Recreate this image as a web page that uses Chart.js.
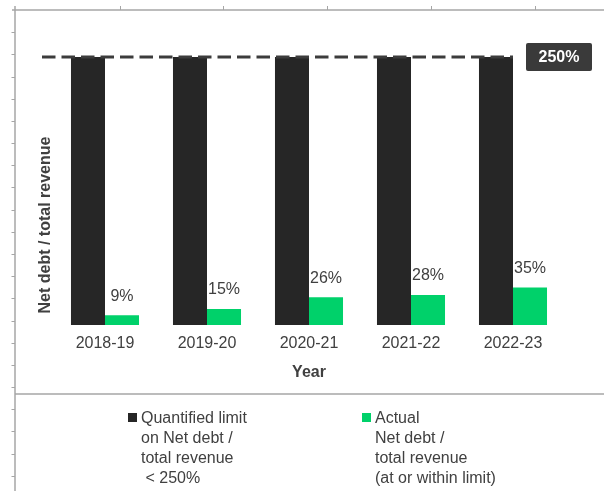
<!DOCTYPE html>
<html>
<head>
<meta charset="utf-8">
<script src="https://cdn.jsdelivr.net/npm/chart.js@4.4.1/dist/chart.umd.min.js"></script>
<style>
  html, body { margin: 0; padding: 0; background: #fff; }
  #wrap { position: relative; width: 604px; height: 491px; overflow: hidden; }
  #c { position: absolute; left: 0; top: 0; }
  .leg { position: absolute; font-family: "Liberation Sans", Arial, sans-serif; font-size: 16px; line-height: 20px; color: #404040; white-space: pre; }
  .sw { position: absolute; width: 9px; height: 9px; }
</style>
</head>
<body>
<div id="wrap">
  <canvas id="c" width="604" height="491"></canvas>
</div>
<script>
// ---- data ----
const categories = ["2018-19", "2019-20", "2020-21", "2021-22", "2022-23"];
const limitValues = [250, 250, 250, 250, 250];
const actualValues = [9, 15, 26, 28, 35];
const limitLabel = "250%";
const seriesNames = ["Quantified limit on Net debt / total revenue < 250%", "Actual Net debt / total revenue (at or within limit)"];
const legendLines = [
  ["Quantified limit", "on Net debt /", "total revenue", " < 250%"],
  ["Actual", "Net debt /", "total revenue", "(at or within limit)"]
];
const xTitle = "Year";
const yTitle = "Net debt / total revenue";

const colors = { limit: "#262626", actual: "#00D16A", text: "#404040", frame: "#a6a6a6" };
const FONT = '"Liberation Sans", Arial, sans-serif';

// legend (HTML text)
const wrap = document.getElementById('wrap');
const legPos = [{ sx: 128, tx: 141 }, { sx: 362, tx: 375 }];
legendLines.forEach((lines, i) => {
  const sw = document.createElement('div');
  sw.className = 'sw';
  sw.style.left = legPos[i].sx + 'px';
  sw.style.top = '413px';
  sw.style.background = i === 0 ? colors.limit : colors.actual;
  wrap.appendChild(sw);
  const t = document.createElement('div');
  t.className = 'leg';
  t.style.left = legPos[i].tx + 'px';
  t.style.top = '408px';
  t.textContent = lines.join('\n');
  wrap.appendChild(t);
});

const framePlugin = {
  id: 'frame',
  beforeDraw(chart) {
    const ctx = chart.ctx;
    ctx.save();
    ctx.strokeStyle = colors.frame;
    ctx.lineWidth = 1.5;
    ctx.beginPath();
    ctx.moveTo(15, 6); ctx.lineTo(15, 491);
    ctx.moveTo(12, 10); ctx.lineTo(604, 10);
    ctx.moveTo(15, 394); ctx.lineTo(604, 394);
    ctx.stroke();
    ctx.lineWidth = 1;
    ctx.beginPath();
    for (let k = 1; k < 22; k++) {
      const y = 10 + k * 22.18;
      if (y > 491) break;
      ctx.moveTo(11.5, Math.round(y) + 0.5); ctx.lineTo(15, Math.round(y) + 0.5);
    }
    [120, 223, 327, 431, 535].forEach(x => { ctx.moveTo(x + 0.5, 6); ctx.lineTo(x + 0.5, 10); });
    ctx.stroke();
    ctx.restore();
  },
  afterDatasetsDraw(chart) {
    const ctx = chart.ctx;
    const ys = chart.scales.y;
    const yLim = ys.getPixelForValue(limitValues[0]);
    const limMeta = chart.getDatasetMeta(0);
    const lastBar = limMeta.data[limMeta.data.length - 1];
    const xEnd = lastBar.x + lastBar.width / 2;
    ctx.save();
    // dashed limit line
    ctx.strokeStyle = "#3c3c3c";
    ctx.lineWidth = 3;
    ctx.setLineDash([13.5, 6]);
    ctx.beginPath();
    ctx.moveTo(42, yLim); ctx.lineTo(xEnd, yLim);
    ctx.stroke();
    ctx.setLineDash([]);
    // 250% box
    ctx.fillStyle = "#3a3a3a";
    ctx.beginPath();
    ctx.roundRect(526, yLim - 14, 66, 28, 2);
    ctx.fill();
    ctx.fillStyle = "#ffffff";
    ctx.font = 'bold 16px ' + FONT;
    ctx.textAlign = 'center';
    ctx.textBaseline = 'middle';
    ctx.fillText(limitLabel, 559, yLim + 1);
    // value labels
    const meta = chart.getDatasetMeta(1);
    ctx.fillStyle = colors.text;
    ctx.font = '16px ' + FONT;
    meta.data.forEach((bar, i) => {
      ctx.fillText(actualValues[i] + '%', bar.x, bar.y - 19);
    });
    // y title
    ctx.font = 'bold 16px ' + FONT;
    ctx.translate(46, 225);
    ctx.rotate(-Math.PI / 2);
    ctx.fillText(yTitle, 0, 0);
    ctx.restore();
  }
};

new Chart(document.getElementById('c'), {
  type: 'bar',
  data: {
    labels: categories,
    datasets: [
      { label: seriesNames[0], data: limitValues, backgroundColor: colors.limit, categoryPercentage: 0.667, barPercentage: 1.0 },
      { label: seriesNames[1], data: actualValues, backgroundColor: colors.actual, categoryPercentage: 0.667, barPercentage: 1.0 }
    ]
  },
  options: {
    responsive: false,
    animation: false,
    devicePixelRatio: 1,
    layout: { padding: { left: 54, right: 40, top: 57, bottom: 108.6 } },
    plugins: { legend: { display: false }, tooltip: { enabled: false } },
    scales: {
      y: { display: false, min: 0, max: 250 },
      x: {
        grid: { display: false, drawTicks: false },
        border: { display: false },
        ticks: { padding: 9, color: colors.text, font: { family: FONT, size: 16 } },
        title: { display: true, text: xTitle, color: colors.text, font: { family: FONT, size: 16, weight: 'bold' }, padding: { top: 1, bottom: 0 } }
      }
    }
  },
  plugins: [framePlugin]
});
</script>
</body>
</html>
